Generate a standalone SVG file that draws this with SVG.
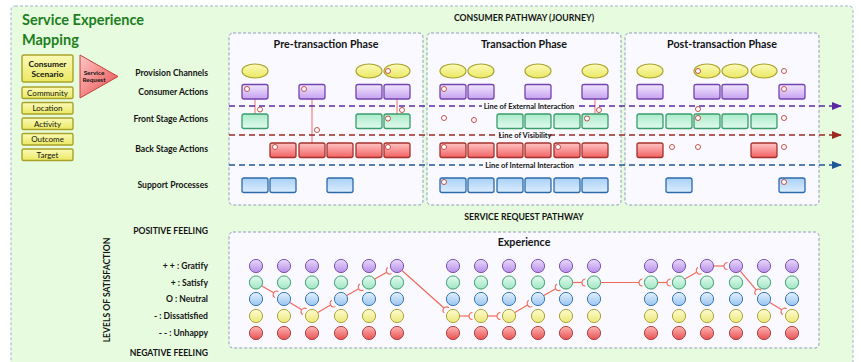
<svg xmlns="http://www.w3.org/2000/svg" width="861" height="362" viewBox="0 0 861 362">
  <defs>
    <linearGradient id="gPur" x1="0" y1="0" x2="0" y2="1"><stop offset="0" stop-color="#f1e6fd"/><stop offset="1" stop-color="#c6a2f0"/></linearGradient>
    <linearGradient id="gGrn" x1="0" y1="0" x2="0" y2="1"><stop offset="0" stop-color="#a9ebc9"/><stop offset="1" stop-color="#e2fbee"/></linearGradient>
    <linearGradient id="gRed" x1="0" y1="0" x2="0" y2="1"><stop offset="0" stop-color="#ffc4c4"/><stop offset="1" stop-color="#f26262"/></linearGradient>
    <linearGradient id="gBlu" x1="0" y1="0" x2="0" y2="1"><stop offset="0" stop-color="#a9d1f7"/><stop offset="1" stop-color="#dcedfd"/></linearGradient>
    <linearGradient id="gYel" x1="0" y1="0" x2="0" y2="1"><stop offset="0" stop-color="#fbfab8"/><stop offset="1" stop-color="#ebe862"/></linearGradient>
    <linearGradient id="gTri" x1="0" y1="0" x2="1" y2="1"><stop offset="0" stop-color="#ffc8c8"/><stop offset="1" stop-color="#e84a4a"/></linearGradient>
    <linearGradient id="cPur" x1="0" y1="0" x2="0" y2="1"><stop offset="0" stop-color="#e9dafb"/><stop offset="1" stop-color="#b88ee8"/></linearGradient>
    <linearGradient id="cGrn" x1="0" y1="0" x2="0" y2="1"><stop offset="0" stop-color="#e4fbef"/><stop offset="1" stop-color="#9fe6c3"/></linearGradient>
    <linearGradient id="cBlu" x1="0" y1="0" x2="0" y2="1"><stop offset="0" stop-color="#e3f0fd"/><stop offset="1" stop-color="#99c6f1"/></linearGradient>
    <linearGradient id="cYel" x1="0" y1="0" x2="0" y2="1"><stop offset="0" stop-color="#fdfcd0"/><stop offset="1" stop-color="#ece77a"/></linearGradient>
    <linearGradient id="cRed" x1="0" y1="0" x2="0" y2="1"><stop offset="0" stop-color="#ffb4b4"/><stop offset="1" stop-color="#e65252"/></linearGradient>
    <marker id="arrPur" viewBox="0 0 10 8" refX="9" refY="4" markerWidth="10" markerHeight="8" markerUnits="userSpaceOnUse" orient="auto"><path d="M0,0 L10,4 L0,8 Z" fill="#5b2aa3"/></marker>
    <marker id="arrRed" viewBox="0 0 10 8" refX="9" refY="4" markerWidth="10" markerHeight="8" markerUnits="userSpaceOnUse" orient="auto"><path d="M0,0 L10,4 L0,8 Z" fill="#9c2a22"/></marker>
    <marker id="arrBlu" viewBox="0 0 10 8" refX="9" refY="4" markerWidth="10" markerHeight="8" markerUnits="userSpaceOnUse" orient="auto"><path d="M0,0 L10,4 L0,8 Z" fill="#1f5896"/></marker>
    <marker id="socket" viewBox="-1 -5 8 10" refX="0" refY="0" markerWidth="8" markerHeight="10" markerUnits="userSpaceOnUse" orient="auto" overflow="visible"><path d="M3.5,-3.5 A3.5,3.5 0 0 0 3.5,3.5" fill="none" stroke="#f06a5c" stroke-width="1.1"/></marker>
  </defs>
  <style>
    text { font-family: Lato, "Open Sans", "Liberation Sans", sans-serif; fill: #141414; }
    .title { font-size: 14.5px; font-weight: bold; fill: #1d7f1d; }
    .hdr { font-size: 8.7px; font-weight: bold; text-anchor: middle; }
    .phase { font-size: 10.7px; font-weight: bold; text-anchor: middle; }
    .row { font-size: 8.6px; font-weight: bold; text-anchor: end; }
    .lbl { font-size: 7.5px; font-weight: bold; text-anchor: middle; }
    .sc { font-size: 8.4px; font-weight: bold; text-anchor: middle; }
    .tag { font-size: 8px; text-anchor: middle; }
    .sr { font-size: 6.4px; font-weight: bold; text-anchor: middle; }
    .frame { fill: #f9f9ff; stroke: #8e9dbb; stroke-width: 1; stroke-dasharray: 3 2; }
    .yb { fill: url(#gYel); stroke: #a9a22a; stroke-width: 1.4; }
    .ell { fill: url(#gYel); stroke: #a9a22a; stroke-width: 1.2; }
    .pur { fill: url(#gPur); stroke: #7443ae; stroke-width: 1.3; }
    .grn { fill: url(#gGrn); stroke: #3b9c6c; stroke-width: 1.3; }
    .red { fill: url(#gRed); stroke: #a5322c; stroke-width: 1.3; }
    .blu { fill: url(#gBlu); stroke: #2d6aa8; stroke-width: 1.3; }
    .pt { fill: #ffffff; stroke: #c0413b; stroke-width: 0.9; }
    .drop { stroke: #f09a9a; stroke-width: 1.5; fill: none; }
    .dash { fill: none; stroke-width: 1.5; stroke-dasharray: 6 4; }
    .cp { fill: url(#cPur); stroke: #7d55b4; stroke-width: 1; }
    .cg { fill: url(#cGrn); stroke: #3f9e72; stroke-width: 1; }
    .cb { fill: url(#cBlu); stroke: #3a78b2; stroke-width: 1; }
    .cy { fill: url(#cYel); stroke: #aaa53a; stroke-width: 1; }
    .cr { fill: url(#cRed); stroke: #b04545; stroke-width: 1; }
    .path { stroke: #f06a5c; stroke-width: 1.2; fill: none; marker-end: url(#socket); }
    .lblbg { fill: #fbfbff; }
  </style>

  <!-- canvas -->
  <rect x="11" y="6" width="842" height="370" rx="4" fill="#e7fbdf" stroke="#a3b2c9" stroke-width="1" stroke-dasharray="3 2"/>

  <g id="title">
    <text class="title" x="22" y="25">Service Experience</text>
    <text class="title" x="22" y="45">Mapping</text>
  </g>

  <!-- scenario legend -->
  <g id="consumer-scenario">
    <rect class="yb" x="22" y="55" width="51" height="27" rx="2"/>
    <text class="sc" x="47.5" y="67">Consumer</text>
    <text class="sc" x="47.5" y="76.5">Scenario</text>
  </g>
  <g id="community"><rect class="yb" x="22" y="87" width="51" height="11.5" rx="1.5"/><text class="tag" x="47.5" y="95.8">Community</text></g>
  <g id="location"><rect class="yb" x="22" y="102.5" width="51" height="11.5" rx="1.5"/><text class="tag" x="47.5" y="111.3">Location</text></g>
  <g id="activity"><rect class="yb" x="22" y="118" width="51" height="11.5" rx="1.5"/><text class="tag" x="47.5" y="126.8">Activity</text></g>
  <g id="outcome"><rect class="yb" x="22" y="133.5" width="51" height="11.5" rx="1.5"/><text class="tag" x="47.5" y="142.3">Outcome</text></g>
  <g id="target"><rect class="yb" x="22" y="149" width="51" height="11.5" rx="1.5"/><text class="tag" x="47.5" y="157.8">Target</text></g>

  <g id="service-request">
    <path d="M80,55 L118,76.5 L80,98 Z" fill="url(#gTri)" stroke="#c4423c" stroke-width="1"/>
    <text class="sr" x="94" y="74.5">Service</text>
    <text class="sr" x="94" y="82.3">Request</text>
  </g>

  <!-- row headings -->
  <g id="row-labels">
    <text class="row" x="208" y="76">Provision Channels</text>
    <text class="row" x="208" y="94.5">Consumer Actions</text>
    <text class="row" x="208" y="121.5">Front Stage Actions</text>
    <text class="row" x="208" y="151.5">Back Stage Actions</text>
    <text class="row" x="208" y="187.5">Support Processes</text>
  </g>

  <text class="hdr" x="524" y="21">CONSUMER PATHWAY (JOURNEY)</text>

  <!-- phase frames -->
  <g id="phase-pre"><rect class="frame" x="229" y="33" width="194" height="172" rx="4"/><text class="phase" x="326" y="48">Pre-transaction Phase</text></g>
  <g id="phase-trans"><rect class="frame" x="427" y="33" width="194" height="172" rx="4"/><text class="phase" x="524" y="48">Transaction Phase</text></g>
  <g id="phase-post"><rect class="frame" x="625" y="33" width="194" height="172" rx="4"/><text class="phase" x="722" y="48">Post-transaction Phase</text></g>

  <!-- provision channels -->
  <g id="channels">
    <ellipse class="ell" cx="255" cy="71" rx="13" ry="7"/>
    <ellipse class="ell" cx="369" cy="71" rx="13" ry="7"/>
    <ellipse class="ell" cx="397" cy="71" rx="13" ry="7"/>
    <ellipse class="ell" cx="453" cy="71" rx="13" ry="7"/>
    <ellipse class="ell" cx="481" cy="71" rx="13" ry="7"/>
    <ellipse class="ell" cx="538" cy="71" rx="13" ry="7"/>
    <ellipse class="ell" cx="595" cy="71" rx="13" ry="7"/>
    <ellipse class="ell" cx="650" cy="71" rx="13" ry="7"/>
    <ellipse class="ell" cx="707" cy="71" rx="13" ry="7"/>
    <ellipse class="ell" cx="735" cy="71" rx="13" ry="7"/>
    <ellipse class="ell" cx="764" cy="71" rx="13" ry="7"/>
  </g>

  <!-- drops between rows -->
  <g id="connectors">
    <line class="drop" x1="255" y1="99" x2="255" y2="114"/>
    <line class="drop" x1="312" y1="99" x2="312" y2="143"/>
    <line class="drop" x1="397" y1="99" x2="397" y2="114"/>
    <line class="drop" x1="595" y1="99" x2="595" y2="114"/>

    <!-- interaction lines -->
    <line class="dash" x1="229" y1="106" x2="841" y2="106" stroke="#5b2aa3" marker-end="url(#arrPur)"/>
    <line class="dash" x1="229" y1="135" x2="841" y2="135" stroke="#9c2a22" marker-end="url(#arrRed)"/>
    <line class="dash" x1="229" y1="165" x2="841" y2="165" stroke="#1f5896" marker-end="url(#arrBlu)"/>
    <rect class="lblbg" x="482" y="101" width="95" height="9"/>
    <rect class="lblbg" x="501" y="130" width="48" height="9"/>
    <rect class="lblbg" x="483" y="160" width="93" height="9"/>
    <text class="lbl" x="529" y="108.6">Line of External Interaction</text>
    <text class="lbl" x="525" y="137.6">Line of Visibility</text>
    <text class="lbl" x="529.5" y="167.6">Line of Internal Interaction</text>
  </g>

  <!-- consumer actions -->
  <g id="consumer-actions">
    <rect class="pur" x="242" y="84.5" width="26" height="14.5" rx="2"/>
    <rect class="pur" x="299" y="84.5" width="26" height="14.5" rx="2"/>
    <rect class="pur" x="356" y="84.5" width="26" height="14.5" rx="2"/>
    <rect class="pur" x="384" y="84.5" width="26" height="14.5" rx="2"/>
    <rect class="pur" x="440" y="84.5" width="26" height="14.5" rx="2"/>
    <rect class="pur" x="468" y="84.5" width="26" height="14.5" rx="2"/>
    <rect class="pur" x="525" y="84.5" width="26" height="14.5" rx="2"/>
    <rect class="pur" x="582" y="84.5" width="26" height="14.5" rx="2"/>
    <rect class="pur" x="637" y="84.5" width="26" height="14.5" rx="2"/>
    <rect class="pur" x="694" y="84.5" width="26" height="14.5" rx="2"/>
    <rect class="pur" x="722" y="84.5" width="26" height="14.5" rx="2"/>
    <rect class="pur" x="779" y="84.5" width="26" height="14.5" rx="2"/>
  </g>

  <!-- front stage -->
  <g id="front-stage">
    <rect class="grn" x="242" y="114" width="26" height="14.5" rx="2"/>
    <rect class="grn" x="356" y="114" width="26" height="14.5" rx="2"/>
    <rect class="grn" x="384" y="114" width="26" height="14.5" rx="2"/>
    <rect class="grn" x="497" y="114" width="26" height="14.5" rx="2"/>
    <rect class="grn" x="525" y="114" width="26" height="14.5" rx="2"/>
    <rect class="grn" x="554" y="114" width="26" height="14.5" rx="2"/>
    <rect class="grn" x="582" y="114" width="26" height="14.5" rx="2"/>
    <rect class="grn" x="637" y="114" width="26" height="14.5" rx="2"/>
    <rect class="grn" x="666" y="114" width="26" height="14.5" rx="2"/>
    <rect class="grn" x="694" y="114" width="26" height="14.5" rx="2"/>
    <rect class="grn" x="722" y="114" width="26" height="14.5" rx="2"/>
    <rect class="grn" x="751" y="114" width="26" height="14.5" rx="2"/>
  </g>

  <!-- back stage -->
  <g id="back-stage">
    <rect class="red" x="270" y="143" width="26" height="14.5" rx="2"/>
    <rect class="red" x="299" y="143" width="26" height="14.5" rx="2"/>
    <rect class="red" x="327" y="143" width="26" height="14.5" rx="2"/>
    <rect class="red" x="356" y="143" width="26" height="14.5" rx="2"/>
    <rect class="red" x="384" y="143" width="26" height="14.5" rx="2"/>
    <rect class="red" x="440" y="143" width="26" height="14.5" rx="2"/>
    <rect class="red" x="468" y="143" width="26" height="14.5" rx="2"/>
    <rect class="red" x="497" y="143" width="26" height="14.5" rx="2"/>
    <rect class="red" x="525" y="143" width="26" height="14.5" rx="2"/>
    <rect class="red" x="554" y="143" width="26" height="14.5" rx="2"/>
    <rect class="red" x="582" y="143" width="26" height="14.5" rx="2"/>
    <rect class="red" x="637" y="143" width="26" height="14.5" rx="2"/>
    <rect class="red" x="751" y="143" width="26" height="14.5" rx="2"/>
  </g>

  <!-- support processes -->
  <g id="support">
    <rect class="blu" x="242" y="178" width="26" height="14.5" rx="2"/>
    <rect class="blu" x="270" y="178" width="26" height="14.5" rx="2"/>
    <rect class="blu" x="327" y="178" width="26" height="14.5" rx="2"/>
    <rect class="blu" x="440" y="178" width="26" height="14.5" rx="2"/>
    <rect class="blu" x="468" y="178" width="26" height="14.5" rx="2"/>
    <rect class="blu" x="497" y="178" width="26" height="14.5" rx="2"/>
    <rect class="blu" x="525" y="178" width="26" height="14.5" rx="2"/>
    <rect class="blu" x="554" y="178" width="26" height="14.5" rx="2"/>
    <rect class="blu" x="582" y="178" width="26" height="14.5" rx="2"/>
    <rect class="blu" x="666" y="178" width="26" height="14.5" rx="2"/>
    <rect class="blu" x="779" y="178" width="26" height="14.5" rx="2"/>
  </g>

  <!-- touch points -->
  <g id="touch-points">
    <circle class="pt" cx="247" cy="89" r="2.5"/>
    <circle class="pt" cx="304" cy="89" r="2.5"/>
    <circle class="pt" cx="388" cy="71" r="2.5"/>
    <circle class="pt" cx="260" cy="109.5" r="2.5"/>
    <circle class="pt" cx="317" cy="130" r="2.5"/>
    <circle class="pt" cx="388" cy="118.5" r="2.5"/>
    <circle class="pt" cx="402" cy="110" r="2.5"/>
    <circle class="pt" cx="275" cy="147" r="2.5"/>
    <circle class="pt" cx="388" cy="147" r="2.5"/>
    <circle class="pt" cx="444" cy="89" r="2.5"/>
    <circle class="pt" cx="599" cy="110" r="2.5"/>
    <circle class="pt" cx="587" cy="118.5" r="2.5"/>
    <circle class="pt" cx="444" cy="118" r="2.5"/>
    <circle class="pt" cx="474" cy="120" r="2.5"/>
    <circle class="pt" cx="444" cy="147" r="2.5"/>
    <circle class="pt" cx="558" cy="147" r="2.5"/>
    <circle class="pt" cx="444" cy="182" r="2.5"/>
    <circle class="pt" cx="698" cy="71" r="2.5"/>
    <circle class="pt" cx="784" cy="71" r="2.5"/>
    <circle class="pt" cx="784" cy="89" r="2.5"/>
    <circle class="pt" cx="698" cy="109" r="2.5"/>
    <circle class="pt" cx="698" cy="118" r="2.5"/>
    <circle class="pt" cx="784" cy="118" r="2.5"/>
    <circle class="pt" cx="672" cy="147" r="2.5"/>
    <circle class="pt" cx="698" cy="147" r="2.5"/>
    <circle class="pt" cx="784" cy="147" r="2.5"/>
    <circle class="pt" cx="784" cy="182" r="2.5"/>
  </g>

  <!-- satisfaction section -->
  <text class="hdr" x="524" y="219.5">SERVICE REQUEST PATHWAY</text>
  <g id="satisfaction-labels">
    <text class="row" x="208" y="234">POSITIVE FEELING</text>
    <text class="row" x="208" y="269">+ + : Gratify</text>
    <text class="row" x="208" y="285.5">+ : Satisfy</text>
    <text class="row" x="208" y="302">O : Neutral</text>
    <text class="row" x="208" y="319">- : Dissatisfied</text>
    <text class="row" x="208" y="336">- - : Unhappy</text>
    <text class="row" x="208" y="356">NEGATIVE FEELING</text>
    <text class="row" transform="translate(110,290) rotate(-90)" style="text-anchor:middle">LEVELS OF SATISFACTION</text>
  </g>

  <g id="experience">
    <rect class="frame" x="229" y="232" width="590" height="116" rx="4"/>
    <text class="phase" x="524" y="246">Experience</text>
  </g>

  <!-- satisfaction grid: gratify / satisfy / neutral / dissatisfied / unhappy -->
  <g id="grid">
    <g id="row-gratify">
      <circle class="cp" cx="256" cy="266" r="6.6"/><circle class="cp" cx="284" cy="266" r="6.6"/><circle class="cp" cx="312" cy="266" r="6.6"/><circle class="cp" cx="341" cy="266" r="6.6"/><circle class="cp" cx="369" cy="266" r="6.6"/><circle class="cp" cx="397" cy="266" r="6.6"/>
      <circle class="cp" cx="453" cy="266" r="6.6"/><circle class="cp" cx="481" cy="266" r="6.6"/><circle class="cp" cx="509" cy="266" r="6.6"/><circle class="cp" cx="538" cy="266" r="6.6"/><circle class="cp" cx="566" cy="266" r="6.6"/><circle class="cp" cx="594" cy="266" r="6.6"/>
      <circle class="cp" cx="651" cy="266" r="6.6"/><circle class="cp" cx="679" cy="266" r="6.6"/><circle class="cp" cx="707" cy="266" r="6.6"/><circle class="cp" cx="736" cy="266" r="6.6"/><circle class="cp" cx="764" cy="266" r="6.6"/><circle class="cp" cx="792" cy="266" r="6.6"/>
    </g>
    <g id="row-satisfy">
      <circle class="cg" cx="256" cy="282.5" r="6.6"/><circle class="cg" cx="284" cy="282.5" r="6.6"/><circle class="cg" cx="312" cy="282.5" r="6.6"/><circle class="cg" cx="341" cy="282.5" r="6.6"/><circle class="cg" cx="369" cy="282.5" r="6.6"/><circle class="cg" cx="397" cy="282.5" r="6.6"/>
      <circle class="cg" cx="453" cy="282.5" r="6.6"/><circle class="cg" cx="481" cy="282.5" r="6.6"/><circle class="cg" cx="509" cy="282.5" r="6.6"/><circle class="cg" cx="538" cy="282.5" r="6.6"/><circle class="cg" cx="566" cy="282.5" r="6.6"/><circle class="cg" cx="594" cy="282.5" r="6.6"/>
      <circle class="cg" cx="651" cy="282.5" r="6.6"/><circle class="cg" cx="679" cy="282.5" r="6.6"/><circle class="cg" cx="707" cy="282.5" r="6.6"/><circle class="cg" cx="736" cy="282.5" r="6.6"/><circle class="cg" cx="764" cy="282.5" r="6.6"/><circle class="cg" cx="792" cy="282.5" r="6.6"/>
    </g>
    <g id="row-neutral">
      <circle class="cb" cx="256" cy="299" r="6.6"/><circle class="cb" cx="284" cy="299" r="6.6"/><circle class="cb" cx="312" cy="299" r="6.6"/><circle class="cb" cx="341" cy="299" r="6.6"/><circle class="cb" cx="369" cy="299" r="6.6"/><circle class="cb" cx="397" cy="299" r="6.6"/>
      <circle class="cb" cx="453" cy="299" r="6.6"/><circle class="cb" cx="481" cy="299" r="6.6"/><circle class="cb" cx="509" cy="299" r="6.6"/><circle class="cb" cx="538" cy="299" r="6.6"/><circle class="cb" cx="566" cy="299" r="6.6"/><circle class="cb" cx="594" cy="299" r="6.6"/>
      <circle class="cb" cx="651" cy="299" r="6.6"/><circle class="cb" cx="679" cy="299" r="6.6"/><circle class="cb" cx="707" cy="299" r="6.6"/><circle class="cb" cx="736" cy="299" r="6.6"/><circle class="cb" cx="764" cy="299" r="6.6"/><circle class="cb" cx="792" cy="299" r="6.6"/>
    </g>
    <g id="row-dissatisfied">
      <circle class="cy" cx="256" cy="316" r="6.6"/><circle class="cy" cx="284" cy="316" r="6.6"/><circle class="cy" cx="312" cy="316" r="6.6"/><circle class="cy" cx="341" cy="316" r="6.6"/><circle class="cy" cx="369" cy="316" r="6.6"/><circle class="cy" cx="397" cy="316" r="6.6"/>
      <circle class="cy" cx="453" cy="316" r="6.6"/><circle class="cy" cx="481" cy="316" r="6.6"/><circle class="cy" cx="509" cy="316" r="6.6"/><circle class="cy" cx="538" cy="316" r="6.6"/><circle class="cy" cx="566" cy="316" r="6.6"/><circle class="cy" cx="594" cy="316" r="6.6"/>
      <circle class="cy" cx="651" cy="316" r="6.6"/><circle class="cy" cx="679" cy="316" r="6.6"/><circle class="cy" cx="707" cy="316" r="6.6"/><circle class="cy" cx="736" cy="316" r="6.6"/><circle class="cy" cx="764" cy="316" r="6.6"/><circle class="cy" cx="792" cy="316" r="6.6"/>
    </g>
    <g id="row-unhappy">
      <circle class="cr" cx="256" cy="333" r="6.6"/><circle class="cr" cx="284" cy="333" r="6.6"/><circle class="cr" cx="312" cy="333" r="6.6"/><circle class="cr" cx="341" cy="333" r="6.6"/><circle class="cr" cx="369" cy="333" r="6.6"/><circle class="cr" cx="397" cy="333" r="6.6"/>
      <circle class="cr" cx="453" cy="333" r="6.6"/><circle class="cr" cx="481" cy="333" r="6.6"/><circle class="cr" cx="509" cy="333" r="6.6"/><circle class="cr" cx="538" cy="333" r="6.6"/><circle class="cr" cx="566" cy="333" r="6.6"/><circle class="cr" cx="594" cy="333" r="6.6"/>
      <circle class="cr" cx="651" cy="333" r="6.6"/><circle class="cr" cx="679" cy="333" r="6.6"/><circle class="cr" cx="707" cy="333" r="6.6"/><circle class="cr" cx="736" cy="333" r="6.6"/><circle class="cr" cx="764" cy="333" r="6.6"/><circle class="cr" cx="792" cy="333" r="6.6"/>
    </g>
  </g>

  <!-- experience path, one segment per step -->
  <g id="experience-path">
    <line class="path" x1="261.8" y1="285.9" x2="273.7" y2="292.8"/>
    <line class="path" x1="289.8" y1="302.4" x2="301.7" y2="309.8"/>
    <line class="path" x1="317.8" y1="312.6" x2="330.6" y2="305.1"/>
    <line class="path" x1="346.8" y1="295.6" x2="358.7" y2="288.7"/>
    <line class="path" x1="374.8" y1="279.1" x2="386.7" y2="272.2"/>
    <line class="path" x1="402" y1="270.5" x2="444" y2="308"/>
    <line class="path" x1="459.7" y1="316" x2="469" y2="316"/>
    <line class="path" x1="487.7" y1="316" x2="497" y2="316"/>
    <line class="path" x1="514.8" y1="312.6" x2="527.6" y2="305.1"/>
    <line class="path" x1="543.8" y1="295.6" x2="555.7" y2="288.7"/>
    <line class="path" x1="572.7" y1="282.5" x2="582" y2="282.5"/>
    <line class="path" x1="600.7" y1="282.5" x2="639" y2="282.5"/>
    <line class="path" x1="657.7" y1="282.5" x2="667" y2="282.5"/>
    <line class="path" x1="684.8" y1="279.1" x2="696.7" y2="272.3"/>
    <line class="path" x1="713.7" y1="266" x2="724" y2="266"/>
    <line class="path" x1="740.3" y1="271.1" x2="756.2" y2="289.9"/>
    <line class="path" x1="769.8" y1="302.4" x2="781.7" y2="309.8"/>
  </g>
</svg>
